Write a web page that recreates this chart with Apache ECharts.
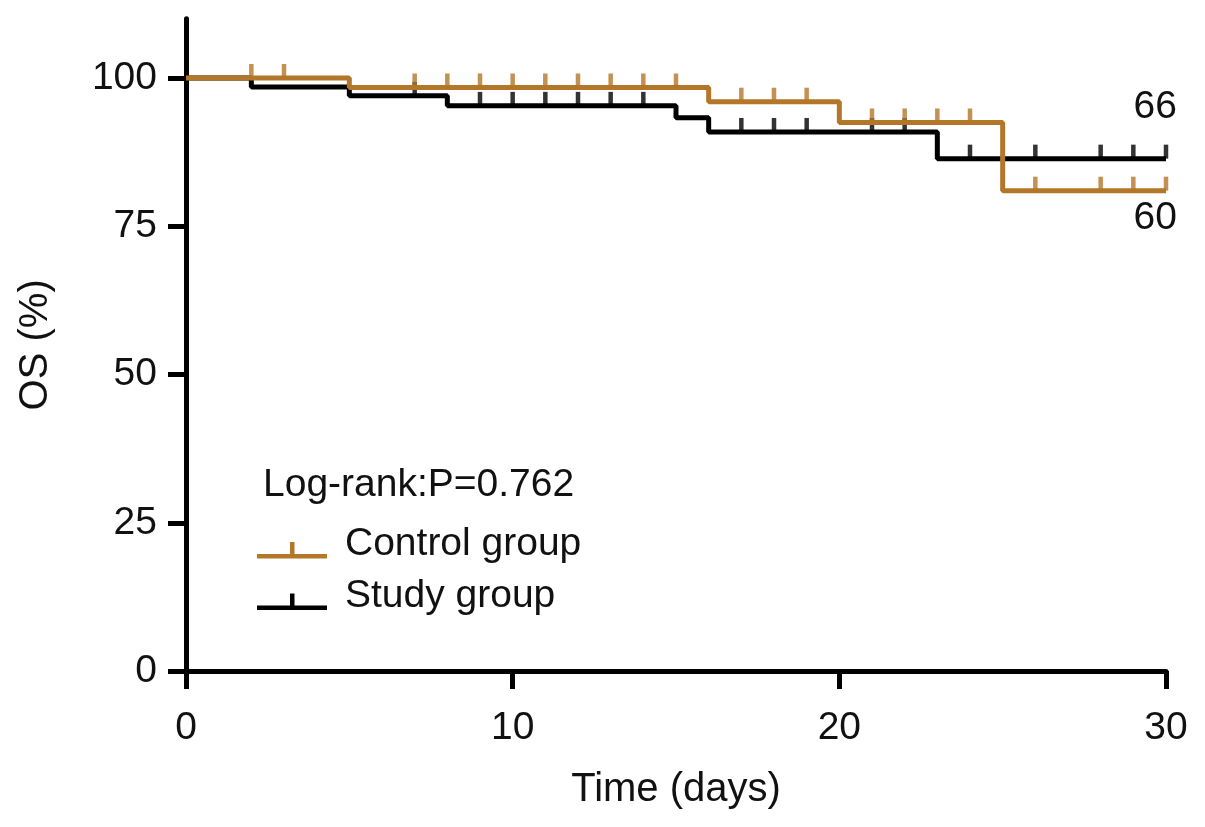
<!DOCTYPE html>
<html><head><meta charset="utf-8">
<script src="https://cdn.jsdelivr.net/npm/echarts@6/dist/echarts.min.js"></script>
<style>html,body{margin:0;padding:0;background:#fff}#c{width:1205px;height:827px}</style>
</head><body><div id="c"></div>
<script>
// ---- data ----
const xTicks = [0, 10, 20, 30];
const yTicks = [0, 25, 50, 75, 100];
const controlTimes = [0, 5, 16, 20, 25, 30];
const controlSurv  = [100, 98.4, 96.0, 92.5, 81.0, 81.0];
const studyTimes = [0, 2, 5, 8, 15, 16, 23, 30];
const studySurv  = [100, 98.5, 97.0, 95.3, 93.3, 90.9, 86.4, 86.4];
const controlCensor = [2, 3, 7, 8, 9, 10, 11, 12, 13, 14, 15, 17, 18, 19, 21, 22, 23, 24, 26, 28, 29, 30];
const studyCensor   = [7, 9, 10, 11, 12, 13, 14, 17, 18, 19, 21, 22, 24, 26, 28, 29, 30];
const controlName = 'Control group';
const studyName = 'Study group';
const pText = 'Log-rank:P=0.762';
const endLabels = ['66', '60'];

const ORANGE = '#b47628';
const BLACK = '#000000';
const TEXT = '#111111';
const FONT = "'Liberation Sans', Arial, Helvetica, sans-serif";

function survAt(times, surv, t) {
  let v = surv[0];
  for (let i = 0; i < times.length; i++) { if (times[i] <= t) v = surv[i]; }
  return v;
}
const controlLine = controlTimes.map((t, i) => [t, controlSurv[i]]);
const studyLine = studyTimes.map((t, i) => [t, studySurv[i]]);
const controlMarks = controlCensor.map(t => [t, survAt(controlTimes, controlSurv, t)]);
const studyMarks = studyCensor.map(t => [t, survAt(studyTimes, studySurv, t)]);

const chart = echarts.init(document.getElementById('c'), null, {renderer: 'canvas'});
// icon: line at the bottom with a tick; the leading move-to widens the box upward so the text sits above the line
const iconPath = 'path://M0,-11.5 M0,12H70V16.5H0Z M33,0H37.5V12H33Z';

function legendFor(name, top) {
  return {
    data: [name], left: 257, top: top, padding: 0,
    itemWidth: 70, itemHeight: 28, icon: iconPath, selectedMode: false,
    textStyle: {fontFamily: FONT, fontSize: 39, color: TEXT, padding: [0, 0, 0, 13]}
  };
}

chart.setOption({
  animation: false,
  backgroundColor: '#ffffff',
  grid: {left: 186, right: 39, top: 18.7, bottom: 156, containLabel: false},
  xAxis: {
    type: 'value', min: 0, max: 30, interval: 10,
    name: 'Time (days)', nameLocation: 'middle', nameGap: 99,
    nameTextStyle: {fontFamily: FONT, fontSize: 40, color: TEXT},
    axisLine: {show: true, onZero: false, lineStyle: {color: BLACK, width: 5}},
    axisTick: {show: true, inside: false, length: 18, lineStyle: {color: BLACK, width: 5}},
    axisLabel: {fontFamily: FONT, fontSize: 39, color: TEXT, margin: 38,
      customValues: xTicks, formatter: v => String(v)},
    splitLine: {show: false}
  },
  yAxis: {
    type: 'value', min: 0, max: 110, interval: 25,
    name: 'OS (%)', nameLocation: 'middle', nameGap: 130,
    nameTextStyle: {fontFamily: FONT, fontSize: 40, color: TEXT},
    axisLine: {show: true, onZero: false, lineStyle: {color: BLACK, width: 5}},
    axisTick: {show: true, inside: false, length: 18, lineStyle: {color: BLACK, width: 5}, customValues: yTicks},
    axisLabel: {fontFamily: FONT, fontSize: 39, color: TEXT, margin: 29, customValues: yTicks},
    splitLine: {show: false}
  },
  legend: [legendFor(controlName, 525), legendFor(studyName, 576.5)],
  series: [
    {name: studyName, type: 'line', step: 'end', data: studyLine, symbol: 'none', z: 3,
      lineStyle: {color: BLACK, width: 5}, itemStyle: {color: BLACK}},
    {name: studyName + ' censored', type: 'scatter', data: studyMarks, z: 3,
      symbol: 'rect', symbolSize: [4.5, 14], symbolOffset: [0, -7], itemStyle: {color: BLACK}},
    {name: controlName, type: 'line', step: 'end', data: controlLine, symbol: 'none', z: 4,
      lineStyle: {color: ORANGE, width: 5}, itemStyle: {color: ORANGE}},
    {name: controlName + ' censored', type: 'scatter', data: controlMarks, z: 4,
      symbol: 'rect', symbolSize: [4.5, 14], symbolOffset: [0, -7], itemStyle: {color: ORANGE}}
  ],
  graphic: [
    {type: 'text', left: 263, top: 466, style: {text: pText, font: '39px ' + FONT, fill: TEXT}},
    {type: 'text', right: 28, top: 88, style: {text: endLabels[0], font: '39px ' + FONT, fill: TEXT}},
    {type: 'text', right: 28, top: 199, style: {text: endLabels[1], font: '39px ' + FONT, fill: TEXT}}
  ]
});
</script></body></html>
